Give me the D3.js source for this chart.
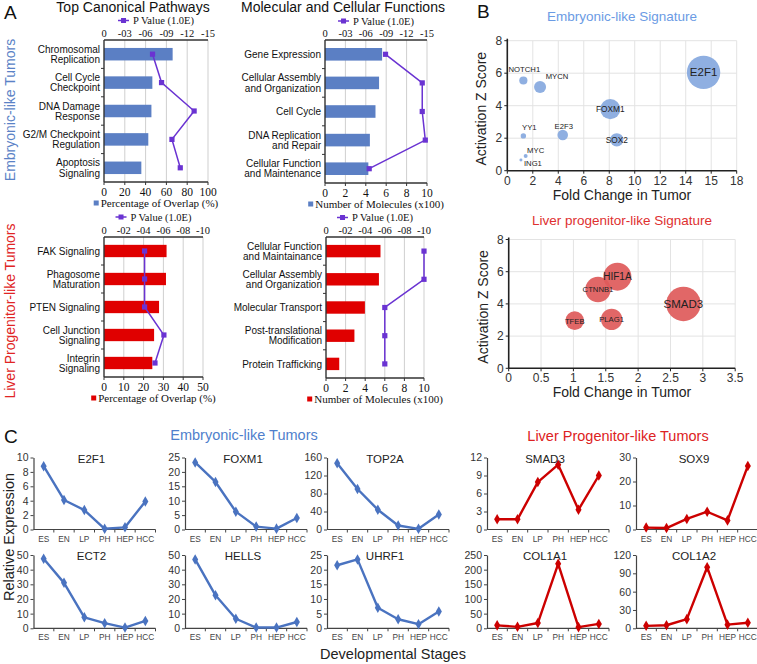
<!DOCTYPE html>
<html><head><meta charset="utf-8">
<script src="https://cdn.jsdelivr.net/npm/d3@7"></script>
<style>
body{margin:0;background:#fff}
svg{display:block}
text{font-family:"Liberation Sans",Arial,sans-serif}
.serif{font-family:"Liberation Serif","Times New Roman",serif}
</style>
</head><body>
<svg id="fig" width="757" height="664"></svg>
<script>
// ---------------- DATA ----------------
// Panel A
const embTcpCats = ["Chromosomal|Replication","Cell Cycle|Checkpoint","DNA Damage|Response","G2/M Checkpoint|Regulation","Apoptosis|Signaling"];
const embTcpOverlap = [66, 46.5, 45.6, 42.6, 35.9];
const embTcpP = [7.0, 8.3, 13.0, 9.8, 11.0];
const embMcfCats = ["Gene Expression","Cellular Assembly|and Organization","Cell Cycle","DNA Replication|and Repair","Cellular Function|and Maintenance"];
const embMcfMolecules = [5.6, 5.3, 4.95, 4.4, 4.25];
const embMcfP = [8.9, 14.3, 14.3, 14.75, 6.5];
const livTcpCats = ["FAK Signaling","Phagosome|Maturation","PTEN Signaling","Cell Junction|Signaling","Integrin|Signaling"];
const livTcpOverlap = [31.6, 31.3, 27.8, 25.3, 24.4];
const livTcpP = [4.1, 4.1, 4.1, 6.05, 5.15];
const livMcfCats = ["Cellular Function|and Maintainance","Cellular Assembly|and Organization","Molecular Transport","Post-translational|Modification","Protein Trafficking"];
const livMcfMolecules = [5.56, 5.4, 3.97, 2.9, 1.35];
const livMcfP = [10, 10, 6, 6, 6];
const pTickLabels15 = ["0","-03","-06","-09","-12","-15"];
const pTickLabels10 = ["0","-02","-04","-06","-08","-10"];
const overlapTicks100 = [0,20,40,60,80,100];
const overlapTicks50 = [0,10,20,30,40,50];
const moleculeTicks = [0,2,4,6,8,10];

// Panel B
const embGenes = ["NOTCH1","MYCN","E2F1","FOXM1","YY1","E2F3","SOX2","MYC","ING1"];
const embFold = [1.26, 2.57, 15.4, 8.08, 1.26, 4.35, 8.59, 1.44, 1.07];
const embZ = [5.55, 5.15, 6.05, 3.79, 2.14, 2.2, 1.9, 0.91, 0.66];
const embSize = [6, 13, 100, 36, 2.6, 10, 16, 1.4, 0.8];
const embFoldTicks = [0,2,4,6,8,10,12,14,16,18];
const embFoldTickLabels = ["0","2","4","6","8","10","12","14","15","18"];
const livGenes = ["HIF1A","CTNNB1","SMAD3","TFEB","PLAG1"];
const livFold = [1.68, 1.38, 2.7, 1.02, 1.59];
const livZ = [5.69, 4.9, 4.0, 2.96, 3.04];
const livSize = [70, 58, 107, 31, 41];
const livFoldTicks = [0,0.5,1,1.5,2,2.5,3,3.5];
const zTicks = [0,2,4,6,8];

// Panel C
const stages = ["ES","EN","LP","PH","HEP","HCC"];
const e2f1 = [8.8, 4.1, 2.7, 0.1, 0.3, 3.9];
const foxm1 = [23.3, 16.5, 6.2, 1.0, 0.3, 4.0];
const top2a = [147, 90, 44, 9, 1.5, 33.5];
const ect2 = [47.5, 31, 7.5, 3.5, 0.5, 5];
const hells = [47, 22.5, 6.5, 0.5, 0.5, 4.3];
const uhrf1 = [21.5, 23.5, 7.0, 3.1, 1.4, 5.7];
const smad3 = [1.7, 1.7, 7.9, 10.8, 3.3, 9.0];
const sox9 = [0.8, 0.6, 4.4, 7.4, 3.8, 26.5];
const col1a1 = [10, 5, 18, 220, 4, 15];
const col1a2 = [4, 5, 15, 100, 6, 9];
const e2f1Ticks = [0,2,4,6,8,10];
const foxm1Ticks = [0,5,10,15,20,25];
const top2aTicks = [0,40,80,120,160];
const ect2Ticks = [0,10,20,30,40,50];
const hellsTicks = [0,10,20,30,40,50];
const uhrf1Ticks = [0,5,10,15,20,25];
const smad3Ticks = [0,3,6,9,12];
const sox9Ticks = [0,10,20,30];
const col1a1Ticks = [0,50,100,150,200,250];
const col1a2Ticks = [0,30,60,90,120];

// ---------------- DRAWING ----------------
const svg = d3.select("#fig");
svg.append("rect").attr("width",757).attr("height",664).attr("fill","#fff");

const BLUE_BAR = "#5b7fc4", RED_BAR = "#e00000", PURPLE = "#6a33d2";
const AXIS = "#333";

function txt(g, x, y, s, size, opts = {}) {
  const t = g.append("text").attr("x", x).attr("y", y).text(s)
    .attr("font-size", size).attr("fill", opts.fill || "#222");
  if (opts.anchor) t.attr("text-anchor", opts.anchor);
  if (opts.serif) t.attr("class", "serif");
  if (opts.rotate) t.attr("transform", `rotate(-90,${x},${y})`);
  return t;
}

// Panel letters & titles
txt(svg, 4, 19, "A", 19, {fill:"#111"});
txt(svg, 477, 18, "B", 19, {fill:"#111"});
txt(svg, 4, 443, "C", 19, {fill:"#111"});
txt(svg, 133, 12, "Top Canonical Pathways", 14, {anchor:"middle", fill:"#111"});
txt(svg, 343, 12, "Molecular and Cellular Functions", 14, {anchor:"middle", fill:"#111"});
txt(svg, 15, 110, "Embryonic-like Tumors", 14, {anchor:"middle", fill:"#5a82c6", rotate:true});
txt(svg, 15, 311, "Liver Progenitor-like Tumors", 14, {anchor:"middle", fill:"#e02424", rotate:true});

function barPanel(o) {
  const g = svg.append("g");
  const y = d3.scaleBand().domain(o.cats).range([o.top, o.bottom]).paddingInner(0.56).paddingOuter(0.28);
  const step = y.step();
  const xb = d3.scaleLinear([0, o.barMax], [o.x0, o.x1]);
  const xp = d3.scaleLinear([0, o.pMax], [o.x0, o.x1]);
  // gridlines
  o.barTicks.forEach(t => {
    if (t === 0) return;
    g.append("line").attr("x1", xb(t)).attr("x2", xb(t)).attr("y1", o.top).attr("y2", o.bottom)
      .attr("stroke", "#cfcfcf").attr("stroke-width", 1);
  });
  // bars
  g.selectAll("rect.bar").data(o.cats).join("rect").attr("class","bar")
    .attr("x", o.x0).attr("y", d => y(d)).attr("height", y.bandwidth())
    .attr("width", (d,i) => xb(o.bars[i]) - o.x0).attr("fill", o.color);
  // axes lines
  g.append("line").attr("x1", o.x0).attr("x2", o.x1).attr("y1", o.top).attr("y2", o.top).attr("stroke", AXIS).attr("stroke-width", 1.4);
  g.append("line").attr("x1", o.x0).attr("x2", o.x1).attr("y1", o.bottom).attr("y2", o.bottom).attr("stroke", AXIS).attr("stroke-width", 1.4);
  g.append("line").attr("x1", o.x0).attr("x2", o.x0).attr("y1", o.top).attr("y2", o.bottom).attr("stroke", AXIS).attr("stroke-width", 1.4);
  for (let i = 1; i < o.cats.length; i++) {
    const yy = o.top + i * step;
    g.append("line").attr("x1", o.x0 - 3).attr("x2", o.x0).attr("y1", yy).attr("y2", yy).attr("stroke", AXIS);
  }
  o.barTicks.forEach(t => {
    g.append("line").attr("x1", xb(t)).attr("x2", xb(t)).attr("y1", o.bottom).attr("y2", o.bottom + 3).attr("stroke", AXIS);
    txt(g, xb(t), o.bottom + 14, String(t), 11.5, {anchor:"middle", serif:true, fill:"#111"});
  });
  o.pTickLabels.forEach((s, i) => {
    txt(g, xp(i * o.pMax / (o.pTickLabels.length - 1)), o.top - 3, s, 10.5, {anchor:"middle", serif:true, fill:"#111"});
  });
  // category labels
  o.cats.forEach(c => {
    const lines = c.split("|");
    const cy = y(c) + y.bandwidth() / 2;
    lines.forEach((l, k) => {
      const yy = cy + 3.6 + (k - (lines.length - 1) / 2) * 10.2;
      txt(g, o.x0 - 4, yy, l, 10, {anchor:"end", fill:"#111"});
    });
  });
  // p-value line
  const pts = o.cats.map((c, i) => [xp(o.pvals[i]), y(c) + y.bandwidth() / 2]);
  g.append("path").attr("d", d3.line()(pts)).attr("fill", "none").attr("stroke", PURPLE).attr("stroke-width", 1.5);
  g.selectAll("rect.pt").data(pts).join("rect").attr("class","pt")
    .attr("x", d => d[0] - 2.6).attr("y", d => d[1] - 2.6).attr("width", 5.2).attr("height", 5.2).attr("fill", PURPLE);
  // legends
  const cx = (o.x0 + o.x1) / 2;
  const lg = g.append("g");
  const lt = txt(lg, 0, 0, "P Value (1.0E)", 10.5, {serif:true, fill:"#111"});
  const w = lt.node().getComputedTextLength();
  const lx = cx - (w + 15) / 2;
  lt.attr("x", lx + 15).attr("y", o.legY + 3.5);
  lg.append("line").attr("x1", lx).attr("x2", lx + 11).attr("y1", o.legY).attr("y2", o.legY).attr("stroke", PURPLE).attr("stroke-width", 1.5);
  lg.append("rect").attr("x", lx + 3).attr("y", o.legY - 2.5).attr("width", 5).attr("height", 5).attr("fill", PURPLE);
  const bt = txt(g, 0, 0, o.barLegend, 11, {serif:true, fill:"#111"});
  const bw = bt.node().getComputedTextLength();
  const bx = cx - (bw + 7) / 2;
  bt.attr("x", bx + 7).attr("y", o.bottom + 25);
  g.append("rect").attr("x", bx).attr("y", o.bottom + 18.5).attr("width", 5).attr("height", 5).attr("fill", o.color);
}

barPanel({cats: embTcpCats, bars: embTcpOverlap, pvals: embTcpP, x0:104, x1:208, top:40, bottom:182,
  barMax:100, barTicks: overlapTicks100, pMax:15, pTickLabels: pTickLabels15, color: BLUE_BAR,
  legY: 20.5, barLegend: "Percentage of Overlap (%)"});
barPanel({cats: embMcfCats, bars: embMcfMolecules, pvals: embMcfP, x0:325, x1:427, top:40, bottom:183,
  barMax:10, barTicks: moleculeTicks, pMax:15, pTickLabels: pTickLabels15, color: BLUE_BAR,
  legY: 21, barLegend: "Number of Molecules (x100)"});
barPanel({cats: livTcpCats, bars: livTcpOverlap, pvals: livTcpP, x0:104, x1:203, top:237, bottom:377,
  barMax:50, barTicks: overlapTicks50, pMax:10, pTickLabels: pTickLabels10, color: RED_BAR,
  legY: 217, barLegend: "Percentage of Overlap (%)"});
barPanel({cats: livMcfCats, bars: livMcfMolecules, pvals: livMcfP, x0:326, x1:424, top:237, bottom:378,
  barMax:10, barTicks: moleculeTicks, pMax:10, pTickLabels: pTickLabels10, color: RED_BAR,
  legY: 217.5, barLegend: "Number of Molecules (x100)"});

// ---------- Panel B ----------
const rScale = d3.scaleSqrt().domain([0, 100]).range([0, 16.7]);
const labelStyle = {
  NOTCH1:{dx:1, dy:-9, fs:7.7}, MYCN:{dx:17, dy:-8, fs:7.7}, E2F1:{dx:0, dy:4, fs:11.5},
  FOXM1:{dx:0, dy:3, fs:8.3}, YY1:{dx:6, dy:-5.5, fs:7.7}, E2F3:{dx:1, dy:-6, fs:7.7},
  SOX2:{dx:0, dy:3, fs:8.3}, MYC:{dx:10, dy:-2.5, fs:7.7}, ING1:{dx:12, dy:6, fs:7.7},
  HIF1A:{dx:0, dy:3.5, fs:10}, CTNNB1:{dx:0, dy:3, fs:7.7}, SMAD3:{dx:0, dy:4, fs:11.5},
  TFEB:{dx:0, dy:3, fs:7.7}, PLAG1:{dx:0, dy:3, fs:7.7}
};
function bubblePanel(o) {
  const g = svg.append("g");
  const x = d3.scaleLinear([0, o.xMax], [o.x0, o.x1]);
  const y = d3.scaleLinear([0, 8], [o.yb, o.yt]);
  o.xTicks.forEach(t => g.append("line").attr("x1", x(t)).attr("x2", x(t)).attr("y1", o.yb).attr("y2", o.yt).attr("stroke", "#e3e3e3"));
  zTicks.forEach(t => g.append("line").attr("x1", o.x0).attr("x2", o.x1).attr("y1", y(t)).attr("y2", y(t)).attr("stroke", "#e3e3e3"));
  g.append("line").attr("x1", o.x0).attr("x2", o.x0).attr("y1", o.yb).attr("y2", o.yt - 2).attr("stroke", "#222").attr("stroke-width", 1.6);
  g.append("line").attr("x1", o.x0).attr("x2", o.x1).attr("y1", o.yb).attr("y2", o.yb).attr("stroke", "#222").attr("stroke-width", 1.6);
  o.xTicks.forEach((t, i) => {
    g.append("line").attr("x1", x(t)).attr("x2", x(t)).attr("y1", o.yb).attr("y2", o.yb + 3).attr("stroke", "#222");
    txt(g, x(t), o.yb + 14, o.xLabels[i], 12, {anchor:"middle", fill:"#333"});
  });
  zTicks.forEach(t => {
    g.append("line").attr("x1", o.x0 - 3).attr("x2", o.x0).attr("y1", y(t)).attr("y2", y(t)).attr("stroke", "#222");
    txt(g, o.x0 - 5, y(t) + 4.2, String(t), 12, {anchor:"end", fill:"#333"});
  });
  txt(g, (o.x0 + o.x1) / 2, o.yb + 29, "Fold Change in Tumor", 14, {anchor:"middle", fill:"#222"});
  txt(g, o.x0 - 21, (o.yb + o.yt) / 2 + 3, "Activation Z Score", 14, {anchor:"middle", fill:"#222", rotate:true});
  txt(g, 622, o.titleY, o.title, 13.5, {anchor:"middle", fill:o.titleColor});
  const data = o.genes.map((gn, i) => ({gn, fx:o.fold[i], z:o.z[i], s:o.size[i]}));
  g.selectAll("circle").data(data).join("circle")
    .attr("cx", d => x(d.fx)).attr("cy", d => y(d.z)).attr("r", d => rScale(d.s))
    .attr("fill", o.fill).attr("fill-opacity", 0.92);
  data.forEach(d => {
    const st = labelStyle[d.gn];
    txt(g, x(d.fx) + st.dx, y(d.z) + st.dy, d.gn, st.fs, {anchor:"middle", fill:"#222"});
  });
}
bubblePanel({genes: embGenes, fold: embFold, z: embZ, size: embSize, xMax: 18, xTicks: embFoldTicks, xLabels: embFoldTickLabels,
  x0: 507.3, x1: 736.7, yb: 170.7, yt: 40.7, title: "Embryonic-like Signature", titleColor: "#6b9be4", titleY: 21, fill: "#85a8de"});
bubblePanel({genes: livGenes, fold: livFold, z: livZ, size: livSize, xMax: 3.5, xTicks: livFoldTicks, xLabels: livFoldTicks.map(String),
  x0: 508.7, x1: 735.2, yb: 368.3, yt: 239.5, title: "Liver progenitor-like Signature", titleColor: "#de3030", titleY: 225, fill: "#de5a5a"});

// ---------- Panel C ----------
const C_BLUE = "#4a73c0", C_RED = "#cc0000";
txt(svg, 244, 440, "Embryonic-like Tumors", 14.5, {anchor:"middle", fill:"#4f7fcc"});
txt(svg, 618, 441, "Liver Progenitor-like Tumors", 14.5, {anchor:"middle", fill:"#dd2222"});
txt(svg, 14, 537, "Relative Expression", 14.5, {anchor:"middle", fill:"#222", rotate:true});
txt(svg, 393, 659, "Developmental Stages", 14.5, {anchor:"middle", fill:"#222"});

function linePanel(o) {
  const g = svg.append("g");
  const W = 122;
  const x = d3.scalePoint().domain(stages).range([o.ax, o.ax + W]).padding(0.5);
  const y = d3.scaleLinear([0, d3.max(o.ticks)], [o.bottom, o.top]);
  const ya = g.append("g").attr("transform", `translate(${o.ax},0)`)
    .call(d3.axisLeft(y).tickValues(o.ticks).tickSize(3).tickSizeOuter(0));
  ya.select(".domain").attr("stroke", "#444").attr("stroke-width", 1.2);
  ya.selectAll(".tick line").attr("stroke", "#444");
  ya.selectAll(".tick text").attr("font-size", 10.5).attr("fill", "#333").attr("font-family", "Liberation Sans, Arial, sans-serif").attr("dx", 1);
  g.append("line").attr("x1", o.ax).attr("x2", o.ax + W).attr("y1", o.bottom).attr("y2", o.bottom).attr("stroke", "#444").attr("stroke-width", 1.2);
  const st = x.step();
  for (let i = 1; i <= stages.length; i++) {
    const xx = o.ax + i * st;
    g.append("line").attr("x1", xx).attr("x2", xx).attr("y1", o.bottom).attr("y2", o.bottom + 3).attr("stroke", "#444");
  }
  stages.forEach(s => txt(g, x(s), o.bottom + 12, s, 8.3, {anchor:"middle", fill:"#444"}));
  const pts = stages.map((s, i) => [x(s), y(o.values[i])]);
  g.append("path").attr("d", d3.line()(pts)).attr("fill", "none").attr("stroke", o.color).attr("stroke-width", 2.4).attr("stroke-linejoin", "round");
  g.selectAll("path.m").data(pts).join("path").attr("class", "m")
    .attr("transform", d => `translate(${d[0]},${d[1]})`)
    .attr("d", d3.symbol(d3.symbolDiamond, 32)).attr("fill", o.color);
  txt(g, o.ax + 58, o.top + 5, o.title, 11.5, {anchor:"middle", fill:"#222"});
}
const R1 = {top: 457.5, bottom: 529.5}, R2 = {top: 555, bottom: 628.3};
linePanel({ax: 33.5, ...R1, values: e2f1, ticks: e2f1Ticks, title: "E2F1", color: C_BLUE});
linePanel({ax: 185, ...R1, values: foxm1, ticks: foxm1Ticks, title: "FOXM1", color: C_BLUE});
linePanel({ax: 327, ...R1, values: top2a, ticks: top2aTicks, title: "TOP2A", color: C_BLUE});
linePanel({ax: 487, ...R1, values: smad3, ticks: smad3Ticks, title: "SMAD3", color: C_RED});
linePanel({ax: 636, ...R1, values: sox9, ticks: sox9Ticks, title: "SOX9", color: C_RED});
linePanel({ax: 33.5, ...R2, values: ect2, ticks: ect2Ticks, title: "ECT2", color: C_BLUE});
linePanel({ax: 185, ...R2, values: hells, ticks: hellsTicks, title: "HELLS", color: C_BLUE});
linePanel({ax: 327, ...R2, values: uhrf1, ticks: uhrf1Ticks, title: "UHRF1", color: C_BLUE});
linePanel({ax: 487, ...R2, values: col1a1, ticks: col1a1Ticks, title: "COL1A1", color: C_RED});
linePanel({ax: 636, ...R2, values: col1a2, ticks: col1a2Ticks, title: "COL1A2", color: C_RED});
</script>
</body></html>
